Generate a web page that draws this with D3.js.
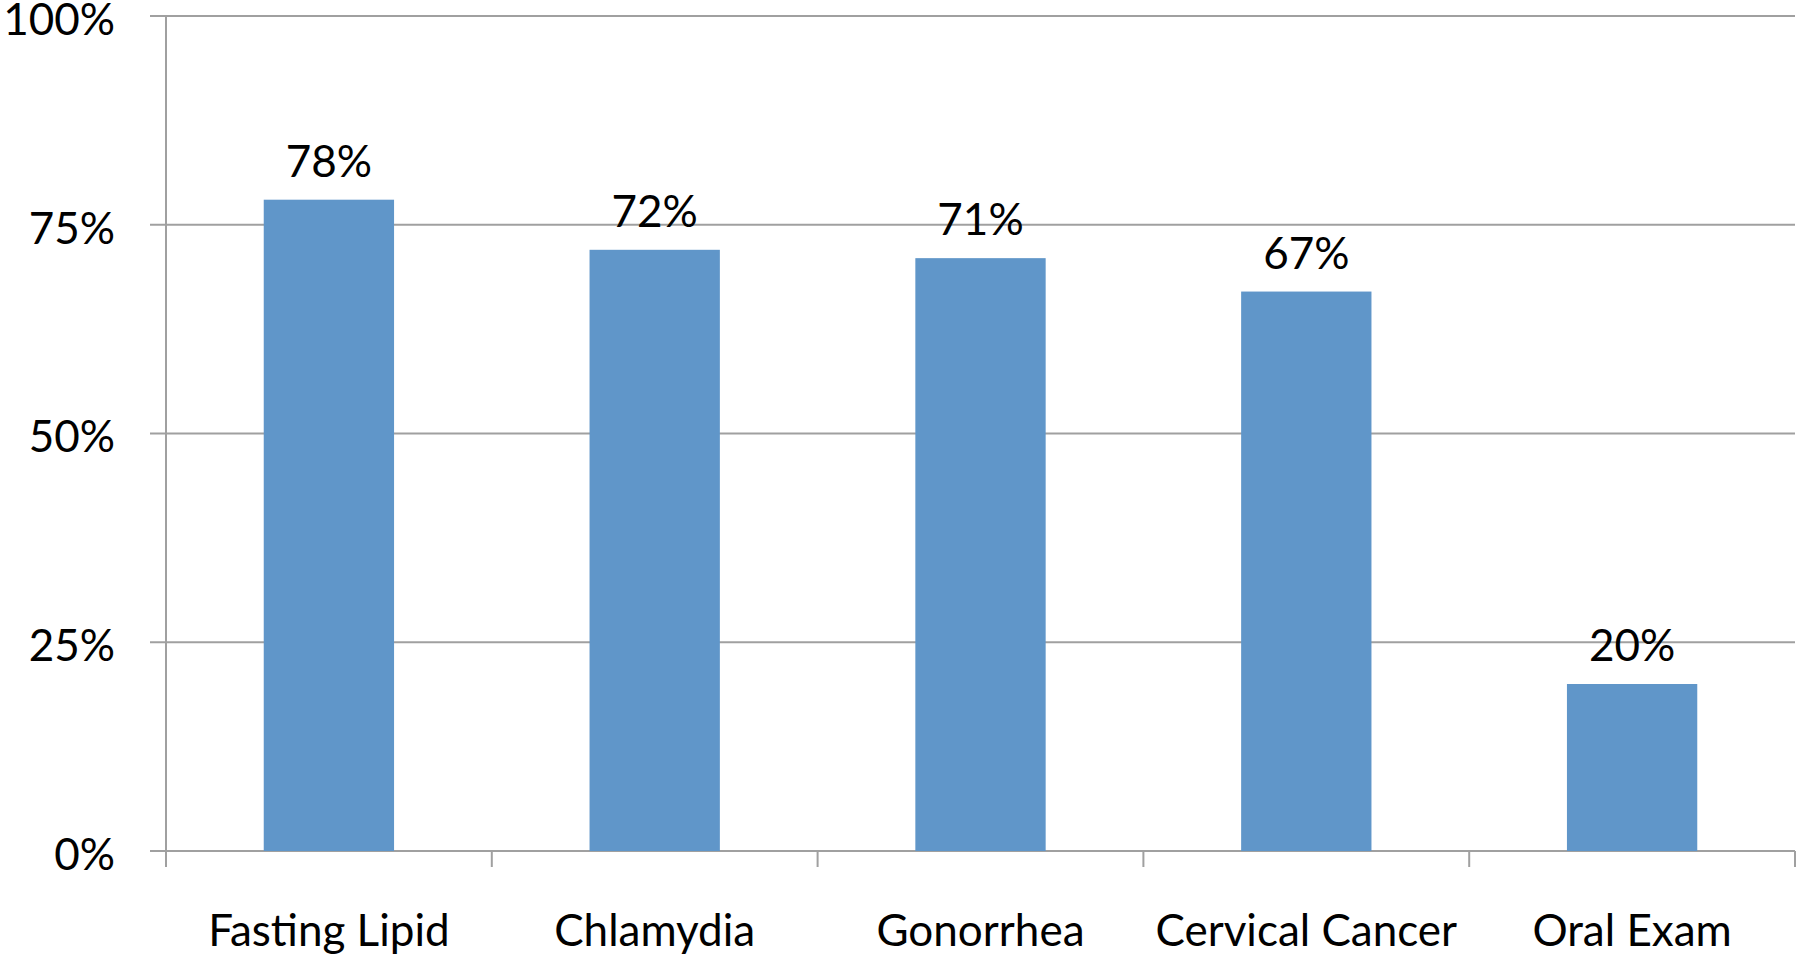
<!DOCTYPE html>
<html>
<head>
<meta charset="utf-8">
<script src="https://cdn.jsdelivr.net/npm/d3@7"></script>
<style>
  body { margin: 0; background: #fff; }
  svg text { font-family: Lato, "Open Sans", sans-serif; fill: #000; }
</style>
</head>
<body>
<svg id="chart"></svg>
<script>
const categories = ['Fasting Lipid', 'Chlamydia', 'Gonorrhea', 'Cervical Cancer', 'Oral Exam'];
const values = [0.78, 0.72, 0.71, 0.67, 0.20];
const yTicks = [0, 0.25, 0.5, 0.75, 1];

const width = 1797,
    height = 963,
    margin = {top: 16, right: 2, bottom: 112, left: 166},
    plotW = width - margin.left - margin.right,
    plotH = height - margin.top - margin.bottom,
    tickLen = 16,
    gridColor = '#a0a0a0',
    barColor = '#6096c9',
    fontSize = 44;

const x = d3.scaleBand()
    .domain(categories)
    .range([0, plotW])
    .paddingInner(0.6)
    .paddingOuter(0.3);

const y = d3.scaleLinear()
    .domain([0, 1])
    .range([plotH, 0]);

const svg = d3.select('#chart')
    .attr('width', width)
    .attr('height', height);

const g = svg.append('g')
    .attr('transform', 'translate(' + margin.left + ',' + margin.top + ')');

// gridlines (with the little left tick stub)
g.selectAll('.grid')
    .data(yTicks)
    .enter().append('line')
    .attr('class', 'grid')
    .attr('x1', -tickLen)
    .attr('x2', plotW)
    .attr('y1', d => y(d))
    .attr('y2', d => y(d))
    .attr('stroke', gridColor)
    .attr('stroke-width', 2);

// y axis labels
const yAxis = d3.axisLeft(y)
    .tickValues(yTicks)
    .tickSize(0)
    .tickPadding(51)
    .tickFormat(d3.format('.0%'));

g.append('g')
    .call(yAxis)
    .call(s => s.select('.domain').remove())
    .selectAll('text')
    .attr('font-size', fontSize)
    .attr('font-family', null)
    .attr('dy', '0.42em');

// vertical axis line
g.append('line')
    .attr('x1', 0).attr('x2', 0)
    .attr('y1', 0).attr('y2', plotH)
    .attr('stroke', gridColor)
    .attr('stroke-width', 2);

// category boundary ticks
const boundaries = categories.map((c, i) => i * x.step()).concat([plotW]);
g.selectAll('.xtick')
    .data(boundaries)
    .enter().append('line')
    .attr('class', 'xtick')
    .attr('x1', d => d).attr('x2', d => d)
    .attr('y1', plotH).attr('y2', plotH + tickLen)
    .attr('stroke', gridColor)
    .attr('stroke-width', 2);

// bars
g.selectAll('.bar')
    .data(values)
    .enter().append('rect')
    .attr('class', 'bar')
    .attr('x', (d, i) => x(categories[i]))
    .attr('width', x.bandwidth())
    .attr('y', d => y(d))
    .attr('height', d => plotH - y(d))
    .attr('fill', barColor);

// value labels
g.selectAll('.val')
    .data(values)
    .enter().append('text')
    .attr('class', 'val')
    .attr('x', (d, i) => x(categories[i]) + x.bandwidth() / 2)
    .attr('y', d => y(d) - 23)
    .attr('text-anchor', 'middle')
    .attr('font-size', fontSize)
    .text(d3.format('.0%'));

// category labels
g.selectAll('.cat')
    .data(categories)
    .enter().append('text')
    .attr('class', 'cat')
    .attr('x', d => x(d) + x.bandwidth() / 2)
    .attr('y', plotH + 95)
    .attr('text-anchor', 'middle')
    .attr('font-size', fontSize)
    .text(d => d);
</script>
</body>
</html>
